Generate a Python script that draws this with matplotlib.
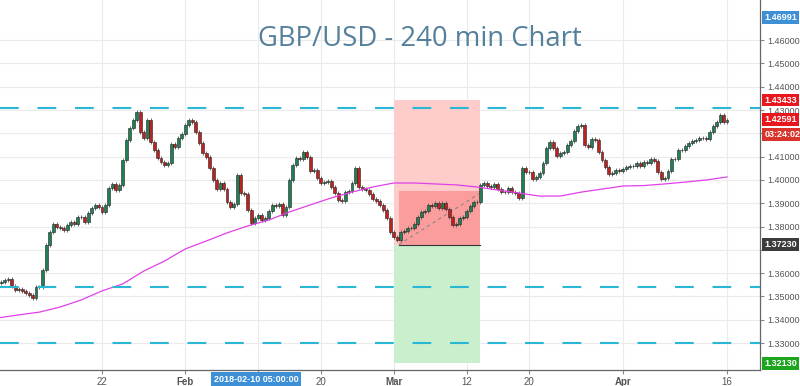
import numpy as np
import pandas as pd
import matplotlib
matplotlib.use('Agg')
import matplotlib.pyplot as plt
from matplotlib.patches import Rectangle

# GBP/USD closes, 3 bars per trading day, Jan 8 -> Apr 16 2018
closes = [
    1.3558, 1.3562, 1.3571, 1.3575, 1.3545, 1.3528, 1.3532, 1.3524, 1.3515, 1.3506,
    1.3494, 1.3541, 1.3541, 1.3614, 1.3721, 1.3777, 1.3811, 1.3798, 1.3794, 1.3785,
    1.3807, 1.3820, 1.3811, 1.3841, 1.3841, 1.3820, 1.3858, 1.3880, 1.3893, 1.3884,
    1.3863, 1.3893, 1.3966, 1.3983, 1.3957, 1.3979, 1.4086, 1.4172, 1.4223, 1.4258,
    1.4292, 1.4206, 1.4180, 1.4258, 1.4163, 1.4129, 1.4094, 1.4077, 1.4064, 1.4073,
    1.4155, 1.4142, 1.4180, 1.4197, 1.4236, 1.4258, 1.4249, 1.4206, 1.4159, 1.4116,
    1.4099, 1.4052, 1.4000, 1.3961, 1.3987, 1.3961, 1.3906, 1.3884, 1.3897, 1.4021,
    1.3944, 1.3940, 1.3871, 1.3815, 1.3837, 1.3850, 1.3828, 1.3837, 1.3867, 1.3893,
    1.3888, 1.3897, 1.3850, 1.3884, 1.4000, 1.4064, 1.4094, 1.4090, 1.4120, 1.4099,
    1.4039, 1.4043, 1.4009, 1.3987, 1.3991, 1.3996, 1.3970, 1.3944, 1.3914, 1.3910,
    1.3948, 1.3953, 1.3987, 1.4052, 1.3970, 1.3961, 1.3957, 1.3940, 1.3918, 1.3910,
    1.3893, 1.3871, 1.3837, 1.3777, 1.3755, 1.3742, 1.3777, 1.3781, 1.3794, 1.3794,
    1.3811, 1.3841, 1.3863, 1.3867, 1.3893, 1.3888, 1.3901, 1.3880, 1.3901, 1.3876,
    1.3841, 1.3807, 1.3811, 1.3837, 1.3841, 1.3867, 1.3888, 1.3906, 1.3906, 1.3979,
    1.3987, 1.3974, 1.3970, 1.3983, 1.3961, 1.3948, 1.3948, 1.3966, 1.3948, 1.3944,
    1.3923, 1.4052, 1.4034, 1.4034, 1.4004, 1.4013, 1.4030, 1.4073, 1.4137, 1.4163,
    1.4137, 1.4103, 1.4116, 1.4120, 1.4150, 1.4167, 1.4210, 1.4232, 1.4236, 1.4150,
    1.4142, 1.4176, 1.4172, 1.4120, 1.4086, 1.4056, 1.4026, 1.4030, 1.4043, 1.4039,
    1.4047, 1.4056, 1.4060, 1.4060, 1.4073, 1.4060, 1.4077, 1.4073, 1.4090, 1.4082,
    1.4034, 1.4004, 1.4009, 1.4039, 1.4090, 1.4090, 1.4129, 1.4129, 1.4146, 1.4159,
    1.4167, 1.4172, 1.4180, 1.4180, 1.4176, 1.4206, 1.4232, 1.4249, 1.4279, 1.4249,
    1.42591,
]
first_open = 1.3555
wick = 0.0008

# moving average, one reading every 6 bars
ma_values = [
    1.3408, 1.3421, 1.3433, 1.3455, 1.3485, 1.3524, 1.3554, 1.3609, 1.3652, 1.3704,
    1.3738, 1.3773, 1.3803, 1.3828, 1.3863, 1.3893, 1.3923, 1.3948, 1.3970, 1.3987,
    1.3987, 1.3983, 1.3979, 1.3970, 1.3957, 1.3944, 1.3931, 1.3931, 1.3948, 1.3961,
    1.3974, 1.3976, 1.3983, 1.3991, 1.4000, 1.4013,
]

levels = [1.4308, 1.3540, 1.3302]  # cyan dashed levels

# short position tool
entry = 1.37230
stop = 1.43433
target = 1.32130
trade_now = 1.3953
trade_start = '2018-03-01'
trade_end = '2018-03-13 08:00'

tick_dates = ['2018-01-22', '2018-02-01', '2018-02-12', '2018-02-20', '2018-03-01',
              '2018-03-12', '2018-03-20', '2018-04-02', '2018-04-16']
tick_names = ['22', 'Feb', '', '20', 'Mar', '12', '20', 'Apr', '16']

days = pd.bdate_range('2018-01-08', '2018-04-13')
bar_times = [d + pd.Timedelta(hours=h) for d in days for h in (0, 8, 16)]
bar_times.append(pd.Timestamp('2018-04-16'))
x = np.arange(len(bar_times))

def bar_of(t):
    return bar_times.index(pd.Timestamp(t))

opens = np.array([first_open] + closes[:-1])
closes = np.array(closes)
highs = np.maximum(opens, closes) + wick
lows = np.minimum(opens, closes) - wick

plt.rcParams['font.family'] = ['Liberation Sans', 'DejaVu Sans']
fig = plt.figure(figsize=(8, 3.86), dpi=100)
ax = fig.add_axes([0, 1 - 370 / 386, 760 / 800, 370 / 386])

# position tool boxes
x0 = bar_of(trade_start)
x1 = bar_of(trade_end)
ax.add_patch(Rectangle((x0, entry), x1 - x0, stop - entry, fc='#ffcccc', ec='none', zorder=1))
ax.add_patch(Rectangle((x0, target), x1 - x0, entry - target, fc='#c9efcd', ec='none', zorder=1))
ax.add_patch(Rectangle((x0 + 1.5, entry), x1 - x0 - 1.5, trade_now - entry, fc='#fb9d9d', ec='none', zorder=1.2))
ax.plot([x0 + 1.5, x1], [entry, entry], color='#333333', lw=0.8, zorder=2)
ax.plot([x0 + 1.5, x1 - 0.5], [entry, 1.3940], color='#888888', lw=0.8, ls=(0, (3, 3)), zorder=2)

# candles
up = closes >= opens
ax.vlines(x, lows, highs, color='#555555', lw=0.6, zorder=3)
ax.bar(x, closes - opens, bottom=opens, width=0.85,
       color=np.where(up, '#1f7f55', '#c0201e'), edgecolor='#222222', linewidth=0.4, zorder=4)

ax.plot(x[::6], ma_values, color='#e040e8', lw=0.9, zorder=5)

for lv in levels:
    ax.axhline(lv, color='#2ab7d6', lw=1.5, ls=(0, (9, 9)), zorder=6)

ax.set_xlim(0.63, 219.5)
ax.set_ylim(1.31845, 1.47725)
yt = np.arange(1.33, 1.4601, 0.01)
ax.set_yticks(yt)
# labels at 1.37 and 1.42 sit under the entry / countdown tags
ax.set_yticklabels(['' if round(v, 2) in (1.37, 1.42) else '%.5f' % v for v in yt])
ax.yaxis.tick_right()
ax.set_xticks([bar_of(d) for d in tick_dates])
ax.set_xticklabels(tick_names)
for lab in ax.get_xticklabels():
    if lab.get_text() in ('Feb', 'Mar', 'Apr'):
        lab.set_fontweight('bold')
ax.tick_params(axis='y', length=3, color='#888888', labelsize=6.5, labelcolor='#555555', pad=2)
ax.tick_params(axis='x', length=3, color='#888888', labelsize=7, labelcolor='#555555', pad=2)
ax.grid(color='#ebebeb', lw=0.8, zorder=0)
ax.set_axisbelow(True)
for s in ('left', 'top'):
    ax.spines[s].set_visible(False)
for s in ('right', 'bottom'):
    ax.spines[s].set_color('#666666')
    ax.spines[s].set_linewidth(0.9)

# price tags on the axis
def tag(y, text, color, dy=0):
    ax.annotate(text, xy=(1.0, y), xycoords=ax.get_yaxis_transform(),
                xytext=(3, dy), textcoords='offset points', ha='left', va='center',
                color='white', fontsize=6.5, fontweight='bold', zorder=10,
                annotation_clip=False,
                bbox=dict(boxstyle='square,pad=0.22', fc=color, ec='none'))

tag(1.46991, '1.46991', '#3d8fd6')
tag(stop, '1.43433', '#e8171d')
tag(closes[-1], '1.42591', '#e8171d')
tag(closes[-1], '03:24:02', '#d8342c', dy=-11)
tag(entry, '1.37230', '#3c3c3c')
tag(target, '1.32130', '#1ca51d')

fig.text(256 / 800, 1 - 379 / 386, '2018-02-10 05:00:00', ha='center', va='center',
         color='white', fontsize=6.5, fontweight='bold',
         bbox=dict(boxstyle='square,pad=0.3', fc='#3d8fd6', ec='none'))

ax.text(0.552, 0.895, 'GBP/USD - 240 min Chart', transform=ax.transAxes, ha='center', va='center',
        fontsize=19.8, color='#55809b', family=['Open Sans', 'DejaVu Sans'], zorder=10)

fig.savefig('out.png', dpi=100)
